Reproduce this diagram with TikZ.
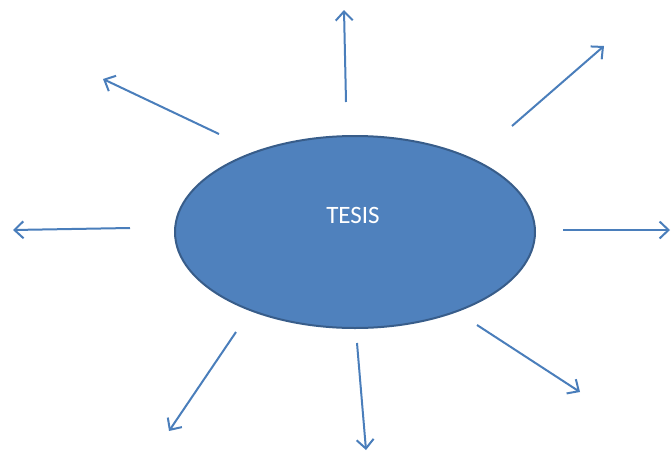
\documentclass[tikz,border=0pt]{standalone}
\usepackage{fontspec}
\setmainfont{Carlito}
\usetikzlibrary{shapes.geometric,arrows.meta}
\definecolor{fillblue}{HTML}{4F81BD}
\definecolor{edgeblue}{HTML}{385D8A}
\definecolor{arrowblue}{HTML}{4A7EBB}
\tikzset{
  core/.style={ellipse, draw=edgeblue, line width=2pt, fill=fillblue, minimum width=360pt, minimum height=192pt, inner sep=0pt},
  ray/.style={draw=arrowblue, line width=2pt, -{Straight Barb[length=9pt,width=17pt,line width=2pt]}}
}
\begin{document}
\begin{tikzpicture}[x=1pt,y=-1pt]
\useasboundingbox (0,0) rectangle (671,455);
\node[core] (tesis) at (355,232) {};
\node[text=white, font=\fontsize{25}{29}\selectfont, inner sep=0pt] (label) at (353,215) {TESIS};
% arrow endpoints
\coordinate (s1) at (346,102); \coordinate (e1) at (344,10);
\coordinate (s2) at (512,126); \coordinate (e2) at (604,46);
\coordinate (s3) at (563,230); \coordinate (e3) at (670,230);
\coordinate (s4) at (477,325); \coordinate (e4) at (580,392);
\coordinate (s5) at (357,343); \coordinate (e5) at (366,450);
\coordinate (s6) at (236,332); \coordinate (e6) at (169,431);
\coordinate (s7) at (130,228); \coordinate (e7) at (13,230);
\coordinate (s8) at (219,134); \coordinate (e8) at (103,79);
\foreach \i in {1,...,8} {\draw[ray] (s\i) -- (e\i);}
\end{tikzpicture}
\end{document}
